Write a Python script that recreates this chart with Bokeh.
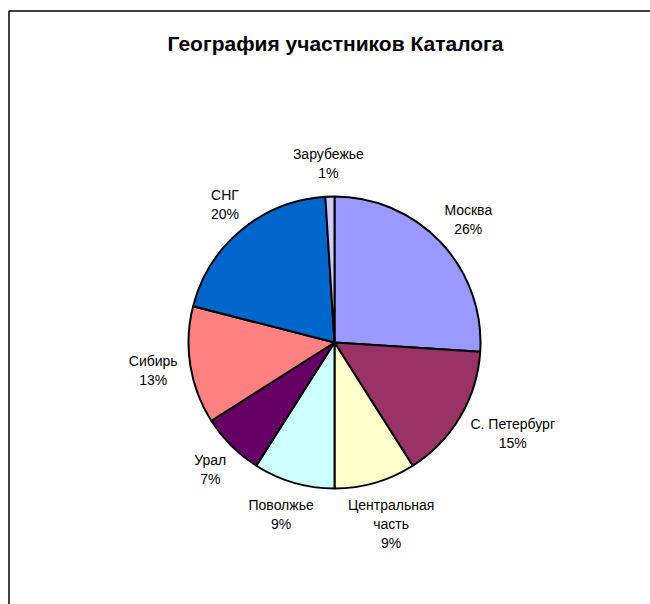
import math
from bokeh.plotting import figure
from bokeh.models import Range1d
from bokeh.core.properties import value
from bokeh.embed import file_html
from bokeh.resources import INLINE

title_text = "География участников Каталога"
categories = ["Москва", "С. Петербург", "Центральная\nчасть", "Поволжье",
              "Урал", "Сибирь", "СНГ", "Зарубежье"]
shares = [26, 15, 9, 9, 7, 13, 20, 1]
colors = ["#9999FF", "#993366", "#FFFFCC", "#CCFFFF",
          "#660066", "#FF8080", "#0066CC", "#CCCCFF"]

W, H = 650, 604
TOP = H  # screen y of data y=0


def sy(screen_y):
    return TOP - screen_y


p = figure(width=W, height=H, output_backend="svg", toolbar_location=None,
           x_range=Range1d(0, W), y_range=Range1d(0, H),
           min_border=0)
p.axis.visible = False
p.grid.visible = False
p.outline_line_color = None
p.background_fill_color = "white"

# frame (left and top edges visible)
p.line([8.5, 8.5, W], [0, sy(10.5), sy(10.5)], line_color="black", line_width=1.5)

cx, cy, R = 334, sy(342), 146
total = float(sum(shares))

starts, ends, mids = [], [], []
cum = 0.0
for s in shares:
    a0 = math.pi / 2 - 2 * math.pi * cum / total
    cum += s
    a1 = math.pi / 2 - 2 * math.pi * cum / total
    starts.append(a0)
    ends.append(a1)
    mids.append((a0 + a1) / 2)

p.wedge(x=[cx] * len(shares), y=[cy] * len(shares), radius=R, radius_units="screen",
        start_angle=starts, end_angle=ends, direction="clock",
        fill_color=colors, line_color="black", line_width=2)

p.text(x=[335], y=[sy(43)], text=[title_text], text_font=value("Liberation Sans"),
       text_font_size="21px", text_font_style="bold", text_align="center",
       text_baseline="middle", text_color="black")

fs = 14
lh = 19
char_w = 0.56 * fs
for name, s, a in zip(categories, shares, mids):
    lines = name.split("\n") + [f"{s}%"]
    bw = max(len(l) for l in lines) * char_w
    bh = len(lines) * lh
    dx, dy = math.cos(a), math.sin(a)
    r_anchor = R + 14
    bx = cx + dx * r_anchor + dx * bw / 2
    by = cy + dy * r_anchor + dy * bh / 2
    n = len(lines)
    xs = [bx] * n
    ys = [by + (n - 1) * lh / 2 - i * lh for i in range(n)]
    p.text(x=xs, y=ys, text=lines, text_font=value("Liberation Sans"),
           text_font_size=f"{fs}px", text_align="center", text_baseline="middle",
           text_color="black")

open("out.html", "w").write(file_html(p, INLINE))
